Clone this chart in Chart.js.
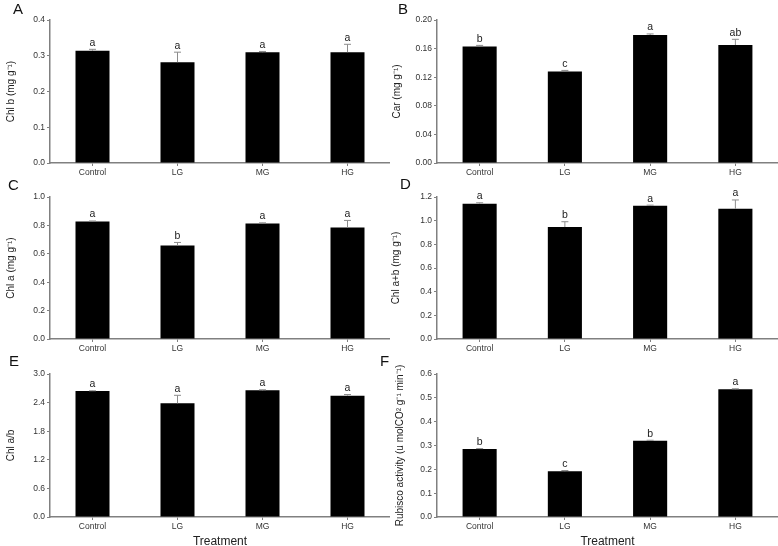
<!DOCTYPE html>
<html>
<head>
<meta charset="utf-8">
<script src="https://cdn.jsdelivr.net/npm/chart.js@4.4.1/dist/chart.umd.min.js"></script>
<style>
body { margin: 0; background: #fff; width: 778px; height: 546px; overflow: hidden; position: relative; }
canvas { position: absolute; }
</style>
</head>
<body>
<canvas id="cA"></canvas>
<canvas id="cB"></canvas>
<canvas id="cC"></canvas>
<canvas id="cD"></canvas>
<canvas id="cE"></canvas>
<canvas id="cF"></canvas>
<script>
const treatments = ['Control', 'LG', 'MG', 'HG']

// A - Chl b
const chlB = [0.314, 0.282, 0.310, 0.310]
const chlBErr = [0.004, 0.028, 0.002, 0.022]
const chlBLetters = ['a', 'a', 'a', 'a']
const chlBTicks = [0, 0.1, 0.2, 0.3, 0.4]

// B - Car
const car = [0.163, 0.128, 0.179, 0.165]
const carErr = [0.0015, 0.0015, 0.0015, 0.008]
const carLetters = ['b', 'c', 'a', 'ab']
const carTicks = [0, 0.04, 0.08, 0.12, 0.16, 0.20]

// C - Chl a
const chlA = [0.827, 0.659, 0.813, 0.785]
const chlAErr = [0.004, 0.021, 0.005, 0.050]
const chlALetters = ['a', 'b', 'a', 'a']
const chlATicks = [0, 0.2, 0.4, 0.6, 0.8, 1.0]

// D - Chl a+b
const chlAB = [1.143, 0.946, 1.126, 1.100]
const chlABErr = [0.008, 0.045, 0.005, 0.075]
const chlABLetters = ['a', 'b', 'a', 'a']
const chlABTicks = [0, 0.2, 0.4, 0.6, 0.8, 1.0, 1.2]

// E - Chl a/b
const chlRatio = [2.643, 2.385, 2.657, 2.545]
const chlRatioErr = [0.005, 0.168, 0.012, 0.025]
const chlRatioLetters = ['a', 'a', 'a', 'a']
const chlRatioTicks = [0, 0.6, 1.2, 1.8, 2.4, 3.0]

// F - Rubisco activity
const rubisco = [0.285, 0.192, 0.320, 0.536]
const rubiscoErr = [0.002, 0.003, 0.002, 0.002]
const rubiscoLetters = ['b', 'c', 'b', 'a']
const rubiscoTicks = [0, 0.1, 0.2, 0.3, 0.4, 0.5, 0.6]

const axisGray = '#808080'
const font = 'Liberation Sans, Arial, sans-serif'

// error bars, significance letters and the panel tag
const marks = {
  id: 'marks',
  afterDatasetsDraw(chart, args, o) {
    const { ctx, scales: { x, y } } = chart
    const vals = chart.data.datasets[0].data
    ctx.save()
    o.errors.forEach((e, i) => {
      const px = x.getPixelForValue(i)
      const y0 = y.getPixelForValue(vals[i])
      const y1 = y.getPixelForValue(vals[i] + e)
      ctx.strokeStyle = '#8c8c8c'
      ctx.lineWidth = 1
      ctx.beginPath()
      ctx.moveTo(px, y0)
      ctx.lineTo(px, y1)
      ctx.moveTo(px - 3.5, y1)
      ctx.lineTo(px + 3.5, y1)
      ctx.stroke()
      ctx.fillStyle = '#222'
      ctx.font = '10.5px ' + font
      ctx.textAlign = 'center'
      ctx.textBaseline = 'alphabetic'
      ctx.fillText(o.letters[i], px, y1 - 3.5)
    })
    ctx.fillStyle = '#111'
    ctx.font = '15px ' + font
    ctx.textAlign = 'left'
    ctx.fillText(o.tag[0], o.tag[1], o.tag[2])
    ctx.restore()
  }
}

function panel(id, box, values, errors, letters, yTicks, decimals, yTitle, tag, xTitle) {
  const cv = document.getElementById(id)
  cv.width = box.w
  cv.height = box.h
  cv.style.left = box.x + 'px'
  cv.style.top = box.y + 'px'
  return new Chart(cv, {
    type: 'bar',
    data: {
      labels: treatments,
      datasets: [{ data: values, backgroundColor: '#000', barPercentage: 0.4, categoryPercentage: 1 }]
    },
    options: {
      responsive: false,
      animation: false,
      layout: { padding: { top: 20, right: 0, left: 0, bottom: 0 } },
      plugins: {
        legend: { display: false },
        tooltip: { enabled: false },
        marks: { errors: errors, letters: letters, tag: tag }
      },
      scales: {
        x: {
          grid: { drawOnChartArea: false, offset: false, tickLength: 3, color: axisGray },
          border: { color: axisGray, width: 1.5 },
          ticks: { color: '#333', font: { family: font, size: 8.5 }, padding: 2, maxRotation: 0 },
          title: {
            display: !!xTitle, text: xTitle || '', color: '#222',
            font: { family: font, size: 12, lineHeight: 1 }, padding: { top: 0, bottom: -2 }
          },
          afterFit: s => { s.height = box.xh }
        },
        y: {
          min: yTicks[0],
          max: yTicks[yTicks.length - 1],
          afterBuildTicks: s => { s.ticks = yTicks.map(v => ({ value: v })) },
          grid: { drawOnChartArea: false, tickLength: 3, color: axisGray },
          border: { color: axisGray, width: 1.5 },
          ticks: { color: '#333', font: { family: font, size: 8.5 }, padding: 2, callback: v => v.toFixed(decimals) },
          title: {
            display: true, text: yTitle, color: '#222',
            font: { family: font, size: 10 }, padding: { top: box.tp, bottom: 0 }
          },
          afterFit: s => { s.width = box.yw }
        }
      }
    },
    plugins: [marks]
  })
}

panel('cA', { x: 0, y: 0, w: 390, h: 180, yw: 50, xh: 17, tp: 5 },
  chlB, chlBErr, chlBLetters, chlBTicks, 1, 'Chl b (mg g\u207B\u00B9)', ['A', 13, 14])
panel('cB', { x: 376, y: 0, w: 402, h: 180, yw: 61, xh: 17, tp: 15 },
  car, carErr, carLetters, carTicks, 2, 'Car (mg g\u207B\u00B9)', ['B', 22, 14])
panel('cC', { x: 0, y: 177, w: 390, h: 180, yw: 50, xh: 18, tp: 5.5 },
  chlA, chlAErr, chlALetters, chlATicks, 1, 'Chl a (mg g\u207B\u00B9)', ['C', 8, 13])
panel('cD', { x: 376, y: 177, w: 402, h: 180, yw: 61, xh: 18, tp: 14 },
  chlAB, chlABErr, chlABLetters, chlABTicks, 1, 'Chl a+b (mg g\u207B\u00B9)', ['D', 24, 12])
panel('cE', { x: 0, y: 354, w: 390, h: 192, yw: 50, xh: 29, tp: 5.5 },
  chlRatio, chlRatioErr, chlRatioLetters, chlRatioTicks, 1, 'Chl a/b', ['E', 9, 12], 'Treatment')
panel('cF', { x: 376, y: 354, w: 402, h: 192, yw: 61, xh: 29, tp: 18 },
  rubisco, rubiscoErr, rubiscoLetters, rubiscoTicks, 1,
  'Rubisco activity (u molCO\u00B2 g\u207B\u00B9 min\u207B\u00B9)', ['F', 4, 12], 'Treatment')
</script>
</body>
</html>
